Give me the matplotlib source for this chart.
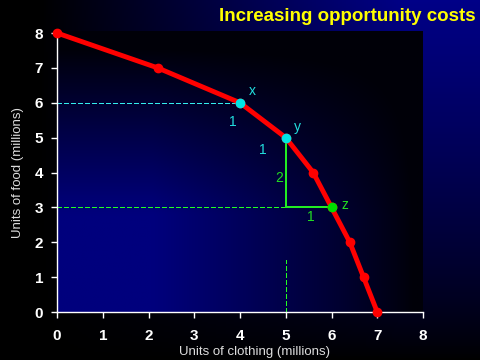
import numpy as np
import matplotlib
matplotlib.use('Agg')
import matplotlib.pyplot as plt

plt.rcParams['font.family'] = ['Liberation Sans', 'DejaVu Sans']

# production possibility frontier (clothing, food), millions
clothing = [0, 2.2, 4, 5, 5.6, 6, 6.4, 6.7, 7]
food = [8, 7, 6, 5, 4, 3, 2, 1, 0]

# highlighted points
pt_x = (4, 6)
pt_y = (5, 5)
pt_z = (6, 3)

xticks = [0, 1, 2, 3, 4, 5, 6, 7, 8]
yticks = [0, 1, 2, 3, 4, 5, 6, 7, 8]

fig = plt.figure(figsize=(4.8, 3.6), dpi=100)

# background gradient of the slide
bg = fig.add_axes([0, 0, 1, 1], zorder=-2)
gx = np.linspace(0, 1, 240)[None, :]
gy = np.linspace(0, 1, 180)[:, None]
blue = 135 * np.clip(gx * 1.3 - 0.1, 0, 1) * (1 - gy) ** 0.8
img = np.zeros((180, 240, 3))
img[..., 2] = blue / 255
bg.imshow(img, aspect='auto', extent=[0, 1, 0, 1], origin='upper')
bg.axis('off')

ax = fig.add_axes([0.11875, 0.1333, 0.7625, 0.775])
ax.set_xlim(0, 8)
ax.set_ylim(0, 8)

# plot area gradient
px = np.linspace(0, 1, 200)[None, :]
py = np.linspace(0, 1, 160)[:, None]
pv = 125 * np.clip(py * 1.6 - 0.05, 0, 1) ** 0.9 * np.clip(1.35 - px * 1.35, 0, 1) ** 0.8
pimg = np.zeros((160, 200, 3))
pimg[..., 2] = np.clip(pv, 8, 255) / 255
ax.imshow(pimg, aspect='auto', extent=[0, 8, 0, 8.05], origin='upper', zorder=0, clip_on=False)

# guide lines
ax.plot([0, pt_x[0]], [pt_x[1], pt_x[1]], color='#33eeee', lw=1, ls=(0, (3, 2)),
        antialiased=False, zorder=2)
ax.plot([0, pt_y[0]], [pt_z[1], pt_z[1]], color='#22ff22', lw=1, ls=(0, (3, 2)),
        antialiased=False, zorder=2)
ax.plot([pt_y[0], pt_y[0]], [0, 1.5], color='#22ff22', lw=1, ls=(0, (3, 2)),
        antialiased=False, zorder=2)
ax.plot([pt_y[0], pt_y[0], pt_z[0]], [pt_y[1], pt_z[1], pt_z[1]], color='#22ee22', lw=1.2,
        antialiased=False, zorder=2)

ax.plot(clothing, food, color='#ff0000', lw=3.5, marker='o', ms=6, zorder=3, clip_on=False)
ax.plot(*pt_x, 'o', color='#00e5e5', ms=6, zorder=4)
ax.plot(*pt_y, 'o', color='#00e5e5', ms=6, zorder=4)
ax.plot(*pt_z, 'o', color='#00dd00', ms=6, zorder=4)

ax.text(4.26, 6.33, 'x', color='#22dddd', fontsize=10, ha='center', va='center')
ax.text(3.85, 5.44, '1', color='#22dddd', fontsize=10, ha='center', va='center')
ax.text(5.25, 5.3, 'y', color='#22dddd', fontsize=10, ha='center', va='center')
ax.text(4.5, 4.64, '1', color='#22dddd', fontsize=10, ha='center', va='center')
ax.text(4.85, 3.84, '2', color='#22dd22', fontsize=10, ha='center', va='center')
ax.text(6.3, 3.07, 'z', color='#22dd22', fontsize=10, ha='center', va='center')
ax.text(5.55, 2.72, '1', color='#22dd22', fontsize=10, ha='center', va='center')

ax.patch.set_visible(False)
for s in ['top', 'right']:
    ax.spines[s].set_visible(False)
for s in ['left', 'bottom']:
    ax.spines[s].set_color('white')
    ax.spines[s].set_linewidth(1)
ax.set_xticks(xticks)
ax.set_yticks(yticks)
ax.tick_params(colors='white', length=4, width=1, labelsize=11)
ax.tick_params(axis='x', pad=8)
ax.tick_params(axis='y', pad=6)
for lab in ax.get_xticklabels() + ax.get_yticklabels():
    lab.set_fontweight('bold')
fig.text(0.531, 0.022, 'Units of clothing (millions)', color='#dddddd', fontsize=9.5,
         ha='center', va='center')
ax.set_ylabel('Units of food (millions)', color='#dddddd', fontsize=9.5, labelpad=8)

fig.text(0.99, 0.955, 'Increasing opportunity costs', color='#ffff00', fontsize=13.5,
         fontweight='bold', ha='right', va='center')

fig.savefig('out.png', dpi=100)
